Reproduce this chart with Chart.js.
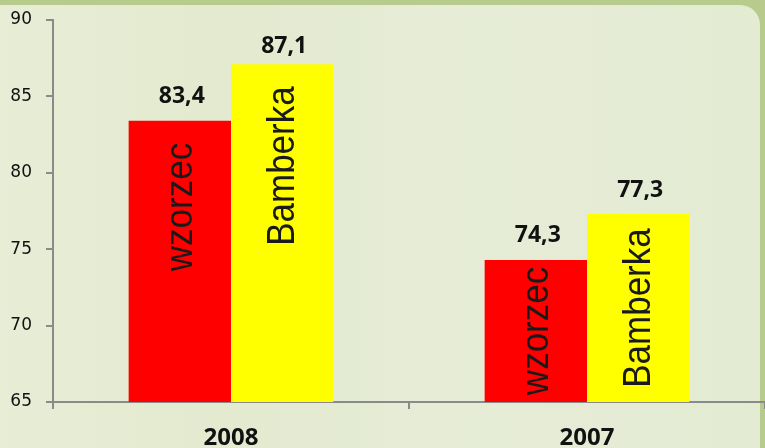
<!DOCTYPE html>
<html>
<head>
<meta charset="utf-8">
<script src="https://cdn.jsdelivr.net/npm/chart.js@4/dist/chart.umd.min.js"></script>
<style>
  html, body { margin: 0; padding: 0; }
  body { width: 765px; height: 448px; background: #b7cb8c; position: relative; overflow: hidden; }
  .panel {
    position: absolute; left: -20px; top: 5px; width: 780px; height: 470px;
    border-radius: 20px;
    background: linear-gradient(90deg, #e8eed6 0%, #e3eacf 30%, #e6ecd6 60%, #e4ebd3 100%);
  }
  canvas { position: absolute; left: 0; top: 0; }
</style>
</head>
<body>
<div class="panel"></div>
<canvas id="chart" width="765" height="448"></canvas>
<script>
// values
var categories = ['2008', '2007'];
var seriesNames = ['wzorzec', 'Bamberka'];
var wzorzec = [83.4, 74.3];
var bamberka = [87.1, 77.3];
var yMin = 65, yMax = 90, yStep = 5;

var seriesColors = ['#ff0000', '#ffff00'];
var boldFont = '"Open Sans"';

function fmt(v) { return v.toFixed(1).replace('.', ','); }

// value labels above bars + series name written upright inside each bar
var barLabels = {
  id: 'barLabels',
  afterDatasetsDraw: function(chart) {
    var ctx = chart.ctx;
    var bottom = chart.chartArea.bottom;
    chart.data.datasets.forEach(function(ds, di) {
      var meta = chart.getDatasetMeta(di);
      meta.data.forEach(function(bar, i) {
        ctx.save();
        ctx.fillStyle = '#111';
        ctx.font = 'bold 23px ' + boldFont;
        ctx.textAlign = 'center';
        ctx.textBaseline = 'middle';
        // keep the top label inside the picture, like the original
        ctx.fillText(fmt(ds.data[i]), bar.x + 2, Math.max(bar.y - 24, 46));
        ctx.restore();

        // name inside the bar, reading bottom-to-top
        ctx.save();
        ctx.font = '35px "Liberation Sans"';
        var len = ctx.measureText(ds.label).width;
        var h = Math.min(bar.base, bottom) - bar.y;
        var gap = Math.min(22, (h - len) / 2);
        ctx.translate(bar.x, bar.y + gap);
        ctx.rotate(-Math.PI / 2);
        ctx.scale(1, 1.12);
        ctx.fillStyle = '#1a1a1a';
        ctx.textAlign = 'right';
        ctx.textBaseline = 'middle';
        ctx.fillText(ds.label, 0, 1);
        ctx.restore();
      });
    });
  }
};

new Chart(document.getElementById('chart'), {
  type: 'bar',
  data: {
    labels: categories,
    datasets: [
      { label: seriesNames[0], data: wzorzec, backgroundColor: seriesColors[0] },
      { label: seriesNames[1], data: bamberka, backgroundColor: seriesColors[1] }
    ]
  },
  options: {
    responsive: false,
    animation: false,
    categoryPercentage: 0.575,
    barPercentage: 1,
    layout: { padding: { top: 20, right: 0, left: 0, bottom: 0 } },
    plugins: { legend: { display: false }, tooltip: { enabled: false } },
    scales: {
      x: {
        grid: { offset: true, drawOnChartArea: false, color: '#8a8a8a', lineWidth: 2, tickLength: 7 },
        border: { color: '#8a8a8a', width: 2 },
        ticks: { color: '#111', font: { family: 'Open Sans', size: 24, weight: 'bold' }, padding: 15 },
        afterFit: function(s) { s.height = 46; }
      },
      y: {
        min: yMin, max: yMax,
        grid: { drawOnChartArea: false, color: '#8a8a8a', lineWidth: 2, tickLength: 7 },
        border: { color: '#8a8a8a', width: 2 },
        ticks: { stepSize: yStep, color: '#111', font: { family: 'DejaVu Sans', size: 17 }, padding: 14 },
        afterFit: function(s) { s.width = 53; s.paddingTop = 0; s.paddingBottom = 0; }
      }
    }
  },
  plugins: [barLabels]
});
</script>
</body>
</html>
